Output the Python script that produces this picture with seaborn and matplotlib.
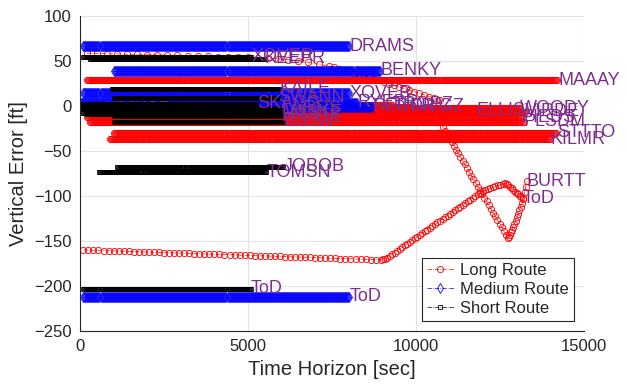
import numpy as np
import pandas as pd
import matplotlib
matplotlib.use("Agg")
import matplotlib.pyplot as plt
import seaborn as sns
from matplotlib.lines import Line2D

STEP = 30  # sample period [sec]

# Long route - constant legs (end label, start, end, vertical error)
long_names = ['MAAAY', 'STTTO', 'KILMR', 'ELLIS', 'WOODY', 'VIRDE', 'PIEDS', 'PLSDM', 'FRIGZ', 'TROPZ']
long_t0 = [200, 1000, 900, 300, 100, 200, 200, 300, 0, 200]
long_t1 = [14230, 14190, 13990, 11800, 13100, 13250, 13150, 13200, 9850, 9300]
long_v = [28, -30, -37, -5, -3, -7, -13, -18, -1, 1]

# Long route - profile ending at BURTT
burtt_t = [200, 500, 800, 1100, 1400, 1700, 2000, 2300, 2600, 2900, 3200, 3500, 3800, 4100,
           4400, 4700, 5000, 5300, 5600, 5900, 6200, 6500, 6800, 7100, 7400,
           7550, 7700, 7850, 8000, 8150, 8300, 8450, 8600, 8750, 8900, 9050, 9200, 9350,
           9500, 9650, 9800, 9950, 10100, 10250, 10400, 10550, 10700, 10730, 10760,
           10800, 10865, 10930, 10995, 11060, 11125, 11190, 11255, 11320, 11385, 11450,
           11515, 11580, 11645, 11710, 11775, 11840, 11905, 11970, 12035, 12100, 12165,
           12230, 12295, 12360, 12425, 12490, 12555, 12620, 12680, 12740,
           12770, 12800, 12830, 12860, 12895, 12930, 12965, 13000, 13040, 13080, 13115,
           13150, 13190, 13230, 13265, 13300]
burtt_v = [58, 58, 57.5, 57.5, 57, 57, 56.5, 56.5, 56, 56, 55.5, 55, 55, 54.5,
           54, 54, 53.5, 53, 52.5, 52, 51, 49.5, 48, 46, 44,
           42.5, 41, 39.5, 38, 36.5, 35, 33, 31.5, 29.5, 28, 26, 24.5, 22.5,
           21, 19, 17.5, 15.5, 14, 12, 10, 8, 6, -3, -12,
           -24, -28.1, -32.2, -36.4, -40.5, -44.6, -48.7, -52.8, -56.9, -61, -65.2,
           -69.3, -73.4, -77.5, -81.6, -85.7, -89.8, -93.9, -98, -102.1, -106.3, -110.4,
           -114.5, -118.6, -122.7, -126.8, -130.9, -135, -139.2, -143, -147,
           -145.5, -143, -140.5, -138, -134.5, -131, -127.5, -124, -120, -116, -112,
           -108, -102, -96, -90, -84]

# Long route - profile ending at ToD
ltod_t = [100, 250, 400, 550, 700, 850, 1000, 1150, 1300, 1450, 1600, 1750, 1900, 2050,
          2200, 2350, 2500, 2650, 2800, 2950, 3100, 3250, 3400, 3550, 3700, 3850, 4000,
          4150, 4300, 4450, 4600, 4750, 4900, 5050, 5200, 5350, 5500, 5650, 5800, 5950,
          6100, 6250, 6400, 6550, 6700, 6850, 7000, 7150, 7300, 7450, 7600, 7750, 7900,
          8050, 8200, 8350, 8500, 8650, 8800, 8950,
          9020, 9080, 9140, 9215, 9290, 9365, 9440, 9515, 9590, 9665, 9740, 9815, 9890,
          9965, 10040, 10115, 10190, 10265, 10340, 10415, 10490, 10565, 10640, 10715,
          10790, 10865, 10940, 11015, 11090, 11165, 11240, 11315, 11390, 11465, 11540,
          11615, 11690, 11765, 11840, 11915, 11990, 12065, 12140, 12215, 12290, 12365,
          12440, 12515, 12590, 12650, 12700, 12750, 12800, 12850, 12900, 12950, 13000,
          13050, 13100, 13140, 13180]
ltod_v = [-160.0, -160.2, -160.4, -160.6, -160.7, -160.9, -161.1, -161.3, -161.5, -161.7,
          -161.9, -162.1, -162.2, -162.4, -162.6, -162.8, -163.0, -163.2, -163.4, -163.6,
          -163.7, -163.9, -164.1, -164.3, -164.5, -164.7, -164.9, -165.1, -165.2, -165.4,
          -165.6, -165.8, -166.0, -166.2, -166.4, -166.6, -166.7, -166.9, -167.1, -167.3,
          -167.5, -167.7, -167.9, -168.1, -168.2, -168.4, -168.6, -168.8, -169.0, -169.2,
          -169.4, -169.6, -169.7, -169.9, -170.1, -170.3, -170.5, -170.7, -170.9, -171.0,
          -170.5, -169.8, -168.8, -167, -165, -163, -161, -159, -157, -155, -153, -151, -149,
          -147.3, -145.5, -143.5, -141.5, -139.5, -137.5, -135.5, -133.5, -131.5, -129.5, -127.5,
          -125.5, -123.8, -122, -120, -118, -116, -114, -112, -110, -108, -106,
          -104.2, -102.5, -100.5, -98.5, -96.8, -95, -93.7, -92.5, -91.5, -90.5, -89.5,
          -88.5, -87.5, -86.5, -86.3, -87, -88.5, -90, -91.8, -93.5, -95.3, -97,
          -98.5, -100, -101.5, -103]

# Medium route
med_names = ['DRAMS', 'BENKY', 'XOVER', 'RYEBR', 'REDDR', 'ToD']
med_t0 = [100, 1000, 100, 0, 200, 100]
med_t1 = [8030, 8930, 8030, 8270, 8700, 8030]
med_v = [66, 39, 14, 3, -1, -212]

# Short route
short_names = ['XOVER', 'KEEPR', 'KAILE', 'SWANN', 'SKAGG', 'LARRS', 'WISKE', 'HRSTE',
               'BJLMF', 'JOBOB', 'TOMSN', 'ToD']
short_t0 = [100, 300, 950, 1000, 0, 100, 100, 1000, 1000, 1100, 570, 100]
short_t1 = [5100, 5500, 5950, 5900, 5270, 6000, 6100, 6000, 6050, 6070, 5560, 5090]
short_v = [54, 52, 19, 9, 2, -3, -8, -12, -18, -68, -74, -203]

# short legs that end early, their labels sit under later legs
early_names = ['HMNSR', 'DRSTE']
early_t0 = [0, 200]
early_t1 = [800, 3300]
early_v = [-4, -9]

LABEL_COLOR = '#7E2F8E'


def legs(route, names, t0, t1, v):
    frames = []
    for name, a, b, lev in zip(names, t0, t1, v):
        t = np.arange(a, b + 1, STEP)
        frames.append(pd.DataFrame({'t': t, 'v': lev, 'seg': f'{route}-{name}', 'route': route}))
    return frames


frames = legs('Long', long_names, long_t0, long_t1, long_v)
frames.append(pd.DataFrame({'t': burtt_t, 'v': burtt_v, 'seg': 'Long-BURTT', 'route': 'Long'}))
frames.append(pd.DataFrame({'t': ltod_t, 'v': ltod_v, 'seg': 'Long-ToD', 'route': 'Long'}))
frames += legs('Medium', med_names, med_t0, med_t1, med_v)
frames += legs('Short', early_names, early_t0, early_t1, early_v)
frames += legs('Short', short_names, short_t0, short_t1, short_v)
df = pd.concat(frames, ignore_index=True)

sns.set_theme(style='whitegrid')
plt.rcParams['font.family'] = ['Liberation Sans', 'DejaVu Sans']

fig = plt.figure(figsize=(6.27, 3.88), dpi=100)
ax = fig.add_axes([0.1276, 0.1469, 0.8038, 0.8131])

styles = [
    ('Long', '#FF0000', 'o', 4.5, 2.0),
    ('Medium', '#0000FF', 'd', 5.0, 2.2),
    ('Short', '#000000', 's', 3.5, 2.4),
]
for route, color, marker, ms, z in styles:
    sns.lineplot(data=df[df['route'] == route], x='t', y='v', units='seg', estimator=None,
                 sort=False, color=color, marker=marker, markersize=ms, mfc='none',
                 mec=color, mew=0.6, linestyle='-.', linewidth=0.5, ax=ax, zorder=z,
                 legend=False)

# waypoint labels at the end of each leg
label_sets = [
    (long_names + ['BURTT', 'ToD'], long_t1 + [burtt_t[-1], ltod_t[-1]],
     long_v + [burtt_v[-1], ltod_v[-1]], 2.1),
    (med_names, med_t1, med_v, 2.3),
    (early_names, early_t1, early_v, 2.35),
    (short_names, short_t1, short_v, 2.5),
]
for names, ts, vs, z in label_sets:
    for name, t, v in zip(names, ts, vs):
        ax.text(t, v, name, color=LABEL_COLOR, fontsize=13, ha='left', va='center', zorder=z)

ax.set_xlim(0, 15000)
ax.set_ylim(-250, 100)
ax.set_xticks([0, 5000, 10000, 15000])
ax.set_yticks(np.arange(-250, 101, 50))
ax.set_xlabel('Time Horizon [sec]', fontsize=14.5, color='#262626')
ax.set_ylabel('Vertical Error [ft]', fontsize=14.5, color='#262626')
ax.grid(True, color='#E3E3E3', linewidth=0.8)
ax.set_axisbelow(True)
for side in ['top', 'right']:
    ax.spines[side].set_visible(False)
for side in ['left', 'bottom']:
    ax.spines[side].set_color('#262626')
    ax.spines[side].set_linewidth(0.8)
ax.tick_params(direction='in', length=4, width=0.8, color='#262626',
               labelcolor='#262626', labelsize=12, pad=6)

handles = [Line2D([], [], color=c, marker=m, markersize=ms, mfc='none', mec=c, mew=0.6,
                  linestyle='-.', linewidth=0.5)
           for _, c, m, ms, _ in styles]
leg = ax.legend(handles, ['Long Route', 'Medium Route', 'Short Route'], loc='lower right',
                fontsize=12, frameon=True, fancybox=False, framealpha=1, edgecolor='#262626',
                handlelength=1.6, handletextpad=0.4, borderpad=0.3, labelspacing=0.25,
                borderaxespad=0.6)
leg.get_frame().set_linewidth(0.8)
leg.set_zorder(5)

fig.savefig('out.png', dpi=100)
